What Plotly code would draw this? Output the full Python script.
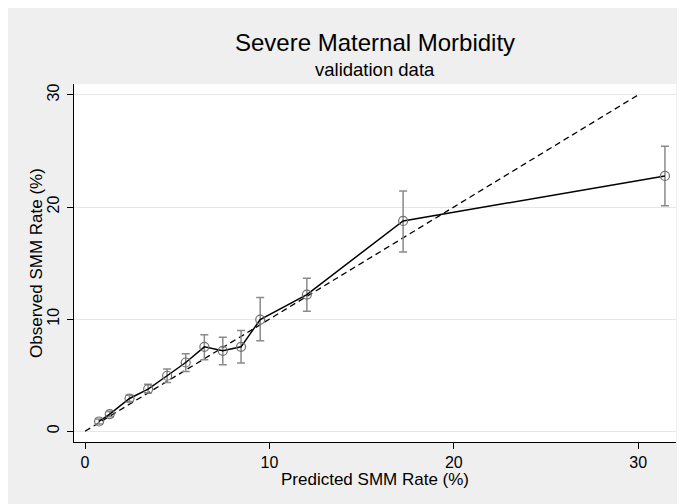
import plotly.graph_objects as go

# calibration bins: mean predicted vs observed SMM rate (%), with 95% CI
predicted = [0.76, 1.34, 2.41, 3.42, 4.45, 5.46, 6.47, 7.47, 8.46, 9.50, 12.03, 17.25, 31.45]
observed = [0.87, 1.53, 2.92, 3.76, 4.95, 6.13, 7.53, 7.17, 7.53, 9.96, 12.19, 18.76, 22.77]
ci_low = [0.65, 1.30, 2.65, 3.40, 4.35, 5.33, 6.37, 5.93, 6.08, 8.07, 10.71, 15.99, 20.10]
ci_high = [1.10, 1.75, 3.20, 4.20, 5.54, 6.91, 8.60, 8.38, 8.98, 11.92, 13.65, 21.43, 25.42]

# reference line of perfect calibration
diag = [0, 30]
x_ticks = [0, 10, 20, 30]
y_ticks = [0, 10, 20, 30]

# the page puts the figure 8px in from the top-left corner (body margin)
W, H = 685, 504
M = dict(l=66, r=17, t=76, b=70)
FONT = "Liberation Sans, Arial, Helvetica, sans-serif"
BG = "#efefef"


def py_to_paper(py):
    return (H - M["b"] - py) / (H - M["t"] - M["b"])


def px_to_paper(px):
    return (px - M["l"]) / (W - M["l"] - M["r"])


err_plus = [h - o for h, o in zip(ci_high, observed)]
err_minus = [o - l for o, l in zip(observed, ci_low)]

fig = go.Figure()
fig.add_trace(go.Scatter(
    x=diag, y=diag, mode="lines",
    line=dict(color="black", width=1.3, dash="6px,4px"),
    hoverinfo="skip", showlegend=False,
))
fig.add_trace(go.Scatter(
    x=predicted, y=observed, mode="lines+markers",
    line=dict(color="black", width=1.5),
    marker=dict(symbol="circle-open", size=9, color="#707070", line=dict(width=1.2)),
    error_y=dict(type="data", symmetric=False, array=err_plus, arrayminus=err_minus,
                 color="#8a8a8a", thickness=1.5, width=4),
    showlegend=False,
))

# titles
fig.add_annotation(text="Severe Maternal Morbidity", xref="paper", yref="paper",
                   x=0.5, y=py_to_paper(34), showarrow=False,
                   xanchor="center", yanchor="middle",
                   font=dict(size=24, color="black", family=FONT))
fig.add_annotation(text="validation data", xref="paper", yref="paper",
                   x=0.5, y=py_to_paper(61), showarrow=False,
                   xanchor="center", yanchor="middle",
                   font=dict(size=18.5, color="black", family=FONT))
fig.add_annotation(text="Predicted SMM Rate (%)", xref="paper", yref="paper",
                   x=0.5, y=py_to_paper(471), showarrow=False,
                   xanchor="center", yanchor="middle",
                   font=dict(size=17, color="black", family=FONT))
fig.add_annotation(text="Observed SMM Rate (%)", xref="paper", yref="paper",
                   x=px_to_paper(28), y=0.5, showarrow=False, textangle=-90,
                   xanchor="center", yanchor="middle",
                   font=dict(size=17, color="black", family=FONT))

fig.update_layout(
    width=W, height=H,
    margin=M,
    paper_bgcolor=BG,
    plot_bgcolor="white",
    font=dict(family=FONT, size=16, color="black"),
    showlegend=False,
)
fig.update_xaxes(
    range=[-0.6, 32.05], tickvals=x_ticks, ticks="outside", ticklen=6,
    tickcolor="black", showline=True, linecolor="black", linewidth=1,
    showgrid=False, zeroline=False, tickfont=dict(size=16),
    ticklabelstandoff=0, automargin=False,
)
fig.update_yaxes(
    range=[-0.96, 30.97], tickvals=y_ticks, ticks="outside", ticklen=6,
    tickcolor="black", showline=True, linecolor="black", linewidth=1,
    showgrid=True, gridcolor="#e6e6e6", gridwidth=1, zeroline=False,
    tickangle=-90, tickfont=dict(size=16), ticklabelstandoff=2, automargin=False,
)

fig.write_html("out.html")
